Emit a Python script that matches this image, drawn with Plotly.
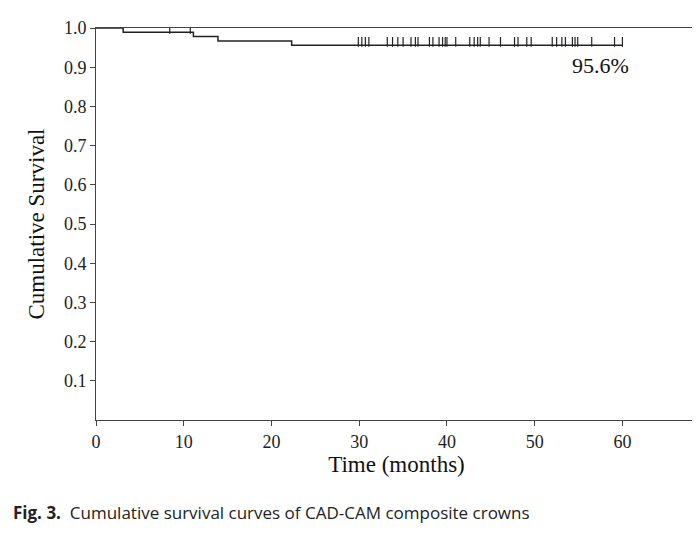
import plotly.graph_objects as go

# step curve (Kaplan-Meier)
event_times = [0, 3.1, 11.1, 13.9, 22.3, 60]
survival = [1.0, 0.989, 0.978, 0.967, 0.956, 0.956]

# censored observations
censor_early = [8.4, 10.75]
censor_early_s = 0.989
censor_times = [29.9, 30.3, 30.7, 31.1, 33.2, 33.8, 34.4, 35.0, 35.9, 36.4, 36.7,
                38.0, 38.4, 39.1, 39.5, 39.8, 40.0, 41.0, 42.6, 43.1, 43.5, 43.8,
                44.8, 46.1, 47.7, 48.1, 49.1, 49.6, 52.0, 52.5, 53.1, 53.5, 54.3,
                54.6, 54.9, 56.5, 59.1, 60.0]
censor_s = 0.956

yticks = [0.1, 0.2, 0.3, 0.4, 0.5, 0.6, 0.7, 0.8, 0.9, 1.0]
xticks = [0, 10, 20, 30, 40, 50, 60]

serif = "Liberation Serif, Times New Roman, serif"
off = 0.0085

fig = go.Figure()
fig.add_trace(go.Scatter(x=event_times, y=survival, mode="lines",
                         line=dict(shape="hv", color="#222", width=1.5),
                         hoverinfo="skip"))
fig.add_trace(go.Scatter(x=censor_early, y=[censor_early_s + off / 1.6] * 2, mode="markers",
                         marker=dict(symbol="line-ns", size=5, line=dict(width=1.2, color="#222"))))
fig.add_trace(go.Scatter(x=censor_times, y=[censor_s + off] * len(censor_times), mode="markers",
                         marker=dict(symbol="line-ns", size=7, line=dict(width=1.2, color="#222"))))

fig.add_annotation(x=57.5, y=0.905, text="95.6%", showarrow=False,
                   font=dict(family=serif, size=22, color="#111"))
fig.add_annotation(xref="paper", yref="paper", x=-0.142, y=-0.27, xanchor="left",
                   text="<b>Fig. 3.</b>  Cumulative survival curves of CAD-CAM composite crowns",
                   showarrow=False, font=dict(family="Open Sans, sans-serif", size=17, color="#222"))

axis_common = dict(showline=True, linecolor="#444", linewidth=1, mirror=True,
                   showgrid=False, zeroline=False, ticks="outside", ticklen=5,
                   tickcolor="#444", tickfont=dict(family=serif, size=18, color="#222"))
fig.update_xaxes(range=[0, 68.5], tickvals=xticks, title=dict(
    text="Time (months)", font=dict(family=serif, size=23, color="#111"), standoff=4),
    **axis_common)
fig.update_yaxes(range=[0, 1.0], tickvals=yticks, ticktext=[f"{v:.1f}" for v in yticks],
                 title=dict(text="Cumulative Survival", font=dict(family=serif, size=23, color="#111"),
                            standoff=12),
                 **axis_common)
fig.update_layout(width=700, height=559, showlegend=False, plot_bgcolor="white",
                  paper_bgcolor="white", margin=dict(l=88, r=10, t=12, b=147))
fig.write_html("out.html")
